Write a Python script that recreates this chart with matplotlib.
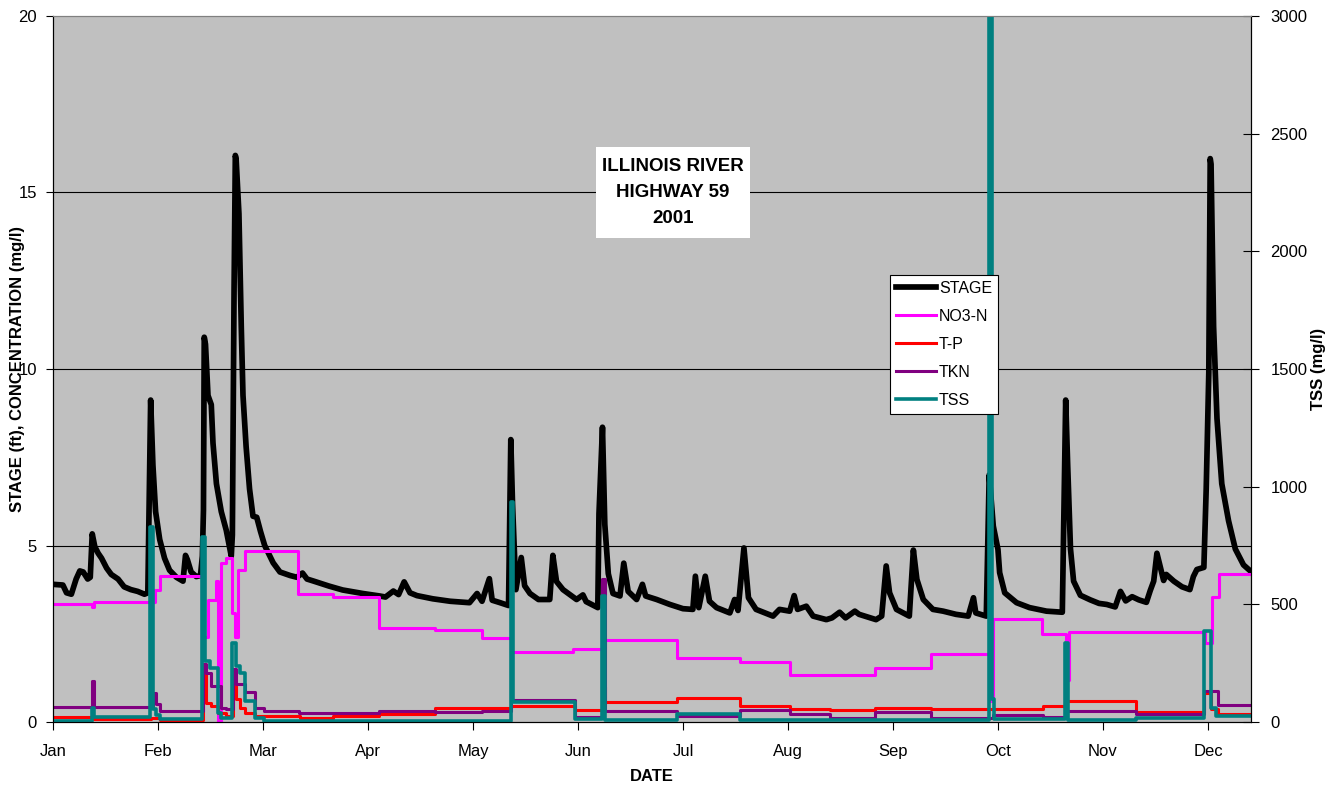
import numpy as np
import pandas as pd
import matplotlib
matplotlib.use('Agg')
import matplotlib.pyplot as plt
from matplotlib.patches import Rectangle

plt.rcParams['font.family'] = ['Liberation Sans', 'DejaVu Sans']

# Stage (ft): 'MM-DD HH' and value
stage_t = ['01-01 00', '01-03 22', '01-05 00', '01-06 10', '01-07 20', '01-08 22', '01-09 22', '01-11 06',
           '01-12 00', '01-12 14', '01-13 08', '01-14 08', '01-15 08', '01-16 20', '01-18 05', '01-20 05',
           '01-22 00', '01-24 00', '01-26 00', '01-28 00', '01-29 00', '01-29 20', '01-30 12', '01-31 07',
           '02-01 11', '02-02 18', '02-04 02', '02-05 22', '02-07 16', '02-08 08', '02-08 20', '02-09 20',
           '02-11 05', '02-12 08', '02-12 20', '02-13 03', '02-13 08', '02-13 16', '02-14 08', '02-15 05',
           '02-15 16', '02-16 14', '02-17 21', '02-19 05', '02-20 13', '02-20 20', '02-21 07', '02-21 15',
           '02-21 20', '02-22 14', '02-23 05', '02-23 16', '02-24 12', '02-25 10', '02-26 08', '02-27 08',
           '02-28 08', '03-01 12', '03-04 00', '03-06 00', '03-09 00', '03-11 00', '03-12 16', '03-14 00',
           '03-16 00', '03-20 12', '03-24 12', '03-30 12', '04-04 08', '04-06 00', '04-08 06', '04-09 18',
           '04-11 08', '04-13 00', '04-15 00', '04-19 12', '04-24 12', '04-30 00', '05-02 05', '05-03 16',
           '05-05 20', '05-06 16', '05-09 00', '05-11 12', '05-12 04', '05-12 16', '05-13 16', '05-15 06',
           '05-16 06', '05-17 20', '05-20 08', '05-23 16', '05-24 14', '05-25 16', '05-27 14', '05-31 14',
           '06-02 10', '06-03 08', '06-06 16', '06-07 00', '06-08 00', '06-08 16', '06-09 16', '06-11 00',
           '06-13 00', '06-14 02', '06-15 08', '06-17 18', '06-19 10', '06-20 08', '06-23 12', '06-27 06',
           '07-01 00', '07-03 22', '07-04 16', '07-05 16', '07-07 14', '07-08 20', '07-10 22', '07-14 20',
           '07-16 06', '07-17 06', '07-19 00', '07-20 08', '07-22 14', '07-27 14', '07-29 12', '08-01 12',
           '08-02 20', '08-03 20', '08-06 10', '08-08 10', '08-12 08', '08-14 00', '08-16 06', '08-18 00',
           '08-20 18', '08-22 00', '08-27 00', '08-28 16', '08-30 00', '08-31 00', '09-02 00', '09-05 16',
           '09-06 20', '09-07 20', '09-09 16', '09-12 10', '09-15 08', '09-19 00', '09-22 12', '09-24 00',
           '09-24 16', '09-27 16', '09-28 12', '09-29 16', '10-01 00', '10-01 12', '10-03 00', '10-06 12',
           '10-10 08', '10-15 08', '10-20 00', '10-21 00', '10-21 14', '10-22 10', '10-23 08', '10-25 08',
           '10-28 06', '10-30 20', '11-02 02', '11-04 12', '11-06 00', '11-07 12', '11-09 08', '11-11 06',
           '11-13 10', '11-14 12', '11-15 12', '11-16 10', '11-17 10', '11-18 08', '11-19 02', '11-21 06',
           '11-23 14', '11-25 20', '11-26 20', '11-27 20', '11-29 20', '11-30 12', '12-01 06', '12-01 16',
           '12-01 22', '12-02 16', '12-03 16', '12-05 02', '12-07 02', '12-09 02', '12-11 12', '12-13 12',
           '12-14 00']
stage_v = [3.9, 3.88, 3.66, 3.62, 4.05, 4.28, 4.25, 4.05,
           4.1, 5.33, 4.97, 4.78, 4.64, 4.36, 4.18, 4.05,
           3.83, 3.75, 3.7, 3.62, 3.66, 9.12, 7.28, 5.96,
           5.17, 4.64, 4.3, 4.1, 3.99, 4.72, 4.6, 4.25,
           4.12, 4.15, 4.7, 6.0, 10.9, 10.7, 9.25, 8.99,
           7.9, 6.75, 5.96, 5.43, 4.7, 5.3, 12.3, 16.05,
           15.95, 14.4, 11.2, 9.25, 7.8, 6.6, 5.83, 5.8,
           5.4, 5.0, 4.51, 4.25, 4.15, 4.1, 4.22, 4.05,
           3.99, 3.85, 3.74, 3.64, 3.57, 3.54, 3.71, 3.61,
           3.97, 3.66, 3.58, 3.49, 3.42, 3.38, 3.64, 3.42,
           4.06, 3.45, 3.38, 3.3, 8.0, 6.2, 3.75, 4.66,
           3.86, 3.64, 3.47, 3.47, 4.72, 3.98, 3.75, 3.47,
           3.6, 3.41, 3.24, 5.9, 8.35, 5.6, 4.2, 3.64,
           3.57, 4.5, 3.7, 3.47, 3.9, 3.57, 3.47, 3.33,
           3.21, 3.19, 4.13, 3.24, 4.13, 3.42, 3.24, 3.09,
           3.47, 3.16, 4.93, 3.52, 3.19, 3.0, 3.19, 3.14,
           3.58, 3.19, 3.28, 3.0, 2.9, 2.95, 3.11, 2.95,
           3.14, 3.05, 2.9, 3.0, 4.42, 3.66, 3.19, 3.0,
           4.87, 4.04, 3.47, 3.19, 3.14, 3.05, 3.0, 3.52,
           3.09, 3.0, 7.0, 5.55, 4.89, 4.23, 3.66, 3.38,
           3.24, 3.14, 3.11, 9.12, 7.28, 4.9, 3.99, 3.59,
           3.46, 3.36, 3.33, 3.26, 3.7, 3.43, 3.55, 3.46,
           3.39, 3.72, 3.99, 4.78, 4.38, 4.01, 4.18, 3.99,
           3.83, 3.75, 4.12, 4.32, 4.38, 6.6, 9.9, 15.96,
           15.8, 11.2, 8.6, 6.75, 5.7, 4.9, 4.45, 4.28,
           4.25]

# NO3-N (mg/l), each value holds from its date to the next
no3_t = ['01-01 00', '01-12 12', '01-13 00', '01-31 00', '02-01 16', '02-13 04', '02-14 08', '02-16 10',
         '02-17 02', '02-17 22', '02-19 06', '02-20 18', '02-21 10', '02-22 08', '02-24 02', '03-11 10',
         '03-21 16', '04-04 06', '04-20 06', '05-03 18', '05-12 08', '05-30 12', '06-08 20', '06-29 08',
         '07-17 20', '08-01 12', '08-26 16', '09-11 20', '09-28 12', '09-29 16', '10-14 00', '10-21 00',
         '10-21 20', '11-30 04', '12-02 04', '12-04 04']
no3_v = [3.33, 3.27, 3.4, 3.74, 4.13, 2.4, 3.47, 4.0,
         0.0, 4.5, 4.65, 3.1, 2.4, 4.3, 4.85, 3.63,
         3.55, 2.65, 2.6, 2.39, 1.97, 2.07, 2.32, 1.82,
         1.71, 1.33, 1.54, 1.93, 0.6, 2.93, 2.48, 1.2,
         2.56, 2.25, 3.54, 4.18]

# T-P (mg/l)
tp_t = ['01-01 00', '01-12 12', '01-30 00', '02-01 16', '02-13 00', '02-13 22', '02-15 06', '02-17 00',
        '02-19 06', '02-21 00', '02-21 22', '02-22 20', '02-24 02', '02-26 20', '03-11 20', '03-21 16',
        '04-04 06', '04-20 06', '05-12 08', '05-31 00', '06-08 00', '06-08 20', '06-29 08', '07-17 20',
        '08-01 16', '08-13 12', '08-26 16', '09-11 20', '10-14 08', '10-21 12', '11-10 12', '11-30 00',
        '12-02 00', '12-03 20']
tp_v = [0.13, 0.08, 0.1, 0.06, 1.5, 0.55, 0.45, 0.25,
        0.17, 1.02, 0.64, 0.4, 0.26, 0.17, 0.12, 0.17,
        0.22, 0.4, 0.45, 0.34, 1.0, 0.57, 0.69, 0.45,
        0.38, 0.34, 0.4, 0.36, 0.45, 0.59, 0.28, 0.83,
        0.36, 0.22]

# TKN (mg/l)
tkn_t = ['01-01 00', '01-12 12', '01-13 00', '01-30 12', '01-31 08', '02-01 16', '02-13 00', '02-13 22',
         '02-15 06', '02-17 18', '02-19 06', '02-21 00', '02-21 22', '02-24 02', '02-26 20', '03-01 06',
         '03-11 12', '04-04 06', '04-20 06', '05-03 18', '05-12 08', '05-31 00', '06-07 20', '06-08 20',
         '06-29 08', '07-17 20', '08-01 16', '08-13 12', '08-26 16', '09-11 20', '09-29 16', '10-14 08',
         '10-21 12', '11-10 12', '11-30 00', '12-03 20']
tkn_v = [0.42, 1.16, 0.42, 0.83, 0.5, 0.3, 1.63, 1.4,
         1.02, 0.4, 0.36, 1.5, 1.07, 0.85, 0.4, 0.3,
         0.26, 0.3, 0.27, 0.32, 0.61, 0.15, 4.04, 0.31,
         0.17, 0.33, 0.24, 0.12, 0.29, 0.12, 0.19, 0.15,
         0.31, 0.22, 0.88, 0.47]

# TSS (mg/l), right axis
tss_t = ['01-01 00', '01-12 12', '01-13 00', '01-29 12', '01-30 12', '01-31 12', '02-01 12', '02-12 16',
         '02-13 10', '02-14 20', '02-17 00', '02-17 22', '02-20 16', '02-21 22', '02-22 20', '02-24 02',
         '02-26 20', '03-01 06', '05-12 04', '05-12 20', '05-31 00', '06-07 20', '06-08 20', '06-29 08',
         '07-17 20', '09-28 12', '09-29 04', '09-30 00', '10-20 18', '10-21 18', '11-10 12', '11-30 00',
         '12-02 00', '12-03 10']
tss_v = [5, 60, 22, 830, 54, 30, 11, 785,
         259, 231, 40, 15, 337, 237, 209, 89,
         18, 4, 935, 85, 11, 537, 8, 33,
         8, 3100, 96, 11, 337, 8, 16, 386,
         61, 25]

end_t = '12-14 00'
months = ['Jan', 'Feb', 'Mar', 'Apr', 'May', 'Jun', 'Jul', 'Aug', 'Sep', 'Oct', 'Nov', 'Dec']


# x axis in the picture is evenly spaced per month
def mpos(labels):
    ts = pd.to_datetime(['2001-' + s for s in labels], format='%Y-%m-%d %H')
    return np.asarray((ts.month - 1) + (ts.day - 1 + ts.hour / 24) / ts.days_in_month, dtype=float)


def steps(t, v):
    return mpos(t + [end_t]), list(v) + [v[-1]]


fig = plt.figure(figsize=(13.31, 7.87), dpi=100)
ax = fig.add_axes([53 / 1331, 65 / 787, 1198 / 1331, 706 / 787])
ax.set_facecolor('#C0C0C0')
ax2 = ax.twinx()

ax.plot(mpos(stage_t), stage_v, color='black', lw=4.1, solid_joinstyle='round', label='STAGE')
x, y = steps(no3_t, no3_v)
ax.plot(x, y, drawstyle='steps-post', color='#FF00FF', lw=2.2, label='NO3-N')
x, y = steps(tp_t, tp_v)
ax.plot(x, y, drawstyle='steps-post', color='#FF0000', lw=2.2, label='T-P')
x, y = steps(tkn_t, tkn_v)
ax.plot(x, y, drawstyle='steps-post', color='#800080', lw=2.2, label='TKN')
x, y = steps(tss_t, tss_v)
ax2.plot(x, y, drawstyle='steps-post', color='#008080', lw=2.6, label='TSS')

ax.set_xlim(0, 11.41)
ax.set_ylim(0, 20)
ax2.set_ylim(0, 3000)
ax.set_xticks(range(12))
ax.set_xticklabels(months)
ax.set_yticks([0, 5, 10, 15, 20])
ax2.set_yticks(range(0, 3001, 500))
for g in [5, 10, 15]:
    ax.axhline(g, color='black', lw=0.8, zorder=0.5)

ax.tick_params(axis='x', direction='out', length=6, labelsize=12, pad=10)
ax.tick_params(axis='y', direction='out', length=5, labelsize=12, pad=6.5)
ax2.tick_params(axis='y', direction='inout', length=12, labelsize=12, pad=8)

for a in (ax, ax2):
    a.spines['top'].set_color('#808080')
    a.spines['left'].set_color('black')
    a.spines['right'].set_color('black')
    a.spines['bottom'].set_color('black')

ax.set_xlabel('DATE', fontsize=12, fontweight='bold', labelpad=7)
ax.set_ylabel('STAGE (ft), CONCENTRATION (mg/l)', fontsize=12, fontweight='bold')
ax.yaxis.set_label_coords(-0.0234, 0.5)
ax2.set_ylabel('TSS (mg/l)', fontsize=12, fontweight='bold', rotation=90)
ax2.yaxis.set_label_coords(1.050, 0.5)

# white title box
ax2.add_patch(Rectangle((0.4533, 0.6856), 0.1285, 0.1288, transform=ax.transAxes,
                        facecolor='white', edgecolor='none', zorder=4))
ax2.text(0.5175, 0.75, 'ILLINOIS RIVER\nHIGHWAY 59\n2001', transform=ax.transAxes,
         ha='center', va='center', fontsize=13.5, fontweight='bold', linespacing=1.68, zorder=5)

handles = ax.get_lines()[:4] + ax2.get_lines()[:1]
handles = [h for h in handles if h.get_label() in ('STAGE', 'NO3-N', 'T-P', 'TKN', 'TSS')]
leg = ax2.legend(handles=handles, loc='upper left', bbox_to_anchor=(0.699, 0.633), borderaxespad=0,
                 fontsize=11.5, frameon=True, fancybox=False, edgecolor='black', framealpha=1,
                 handlelength=2.5, handletextpad=0.2, labelspacing=0.82, borderpad=0.35)
leg.get_frame().set_linewidth(0.8)
leg.set_zorder(6)

fig.savefig('out.png', dpi=100)
